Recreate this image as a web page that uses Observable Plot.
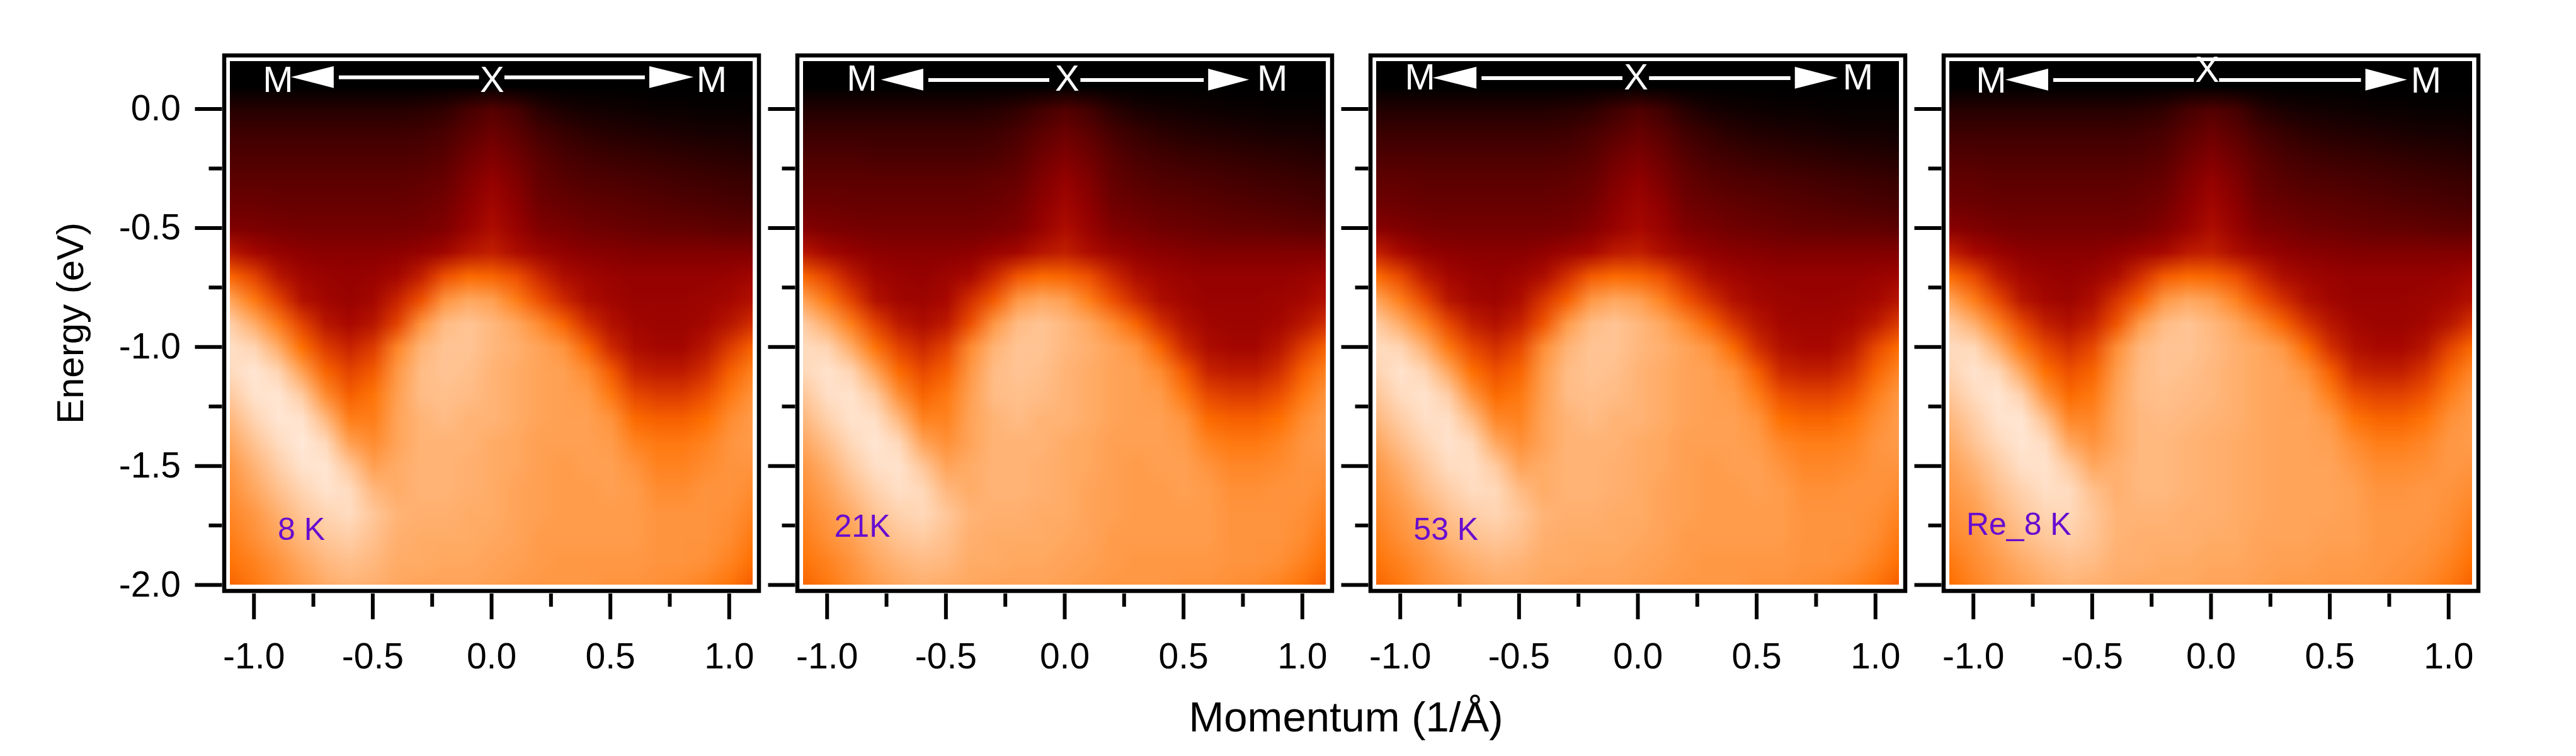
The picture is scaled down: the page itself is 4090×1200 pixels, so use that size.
<!DOCTYPE html>
<html><head><meta charset="utf-8">
<script src="https://cdn.jsdelivr.net/npm/d3@7"></script>
<script src="https://cdn.jsdelivr.net/npm/@observablehq/plot@0.6"></script>
<style>
html,body{margin:0;padding:0;background:#fff;}
#wrap{position:relative;width:4090px;height:1200px;overflow:hidden;background:#fff;font-family:"Liberation Sans",Arial,sans-serif;}
#xlabel{position:absolute;left:1137px;width:2000px;top:1104px;text-align:center;font-size:67px;line-height:67px;color:#000;}
</style></head><body><div id="wrap"><div id="xlabel">Momentum (1/Å)</div></div>
<script>
// momentum grid (columns) and energy grid (rows) of the intensity maps
const momentum = [-1.1,-1.0,-0.9,-0.8,-0.7,-0.6,-0.5,-0.4,-0.3,-0.2,-0.1,0.0,0.1,0.2,0.3,0.4,0.5,0.6,0.7,0.8,0.9,1.0,1.1];
const energy = [0.2,0.1,0.0,-0.1,-0.2,-0.3,-0.4,-0.5,-0.6,-0.7,-0.8,-0.9,-1.0,-1.1,-1.2,-1.3,-1.4,-1.5,-1.6,-1.7,-1.8,-1.9,-2.0];

const panelNames = ["8 K", "21K", "53 K", "Re_8 K"];

const intensity8K = [
[0,0,0,0,0,0,0,0,0,0,0,0,0,0,0,0,0,0,0,0,0,0,0],
[0,0,0,0,0,0,0,0,0,0,0,0,0,0,0,0,0,0,0,0,0,0,0],
[11,11,11,11,11,11,11,11,12,14,20,24,20,12,8,6,5,4,3,3,2,2,2],
[18,18,18,18,18,18,18,18,19,21,26,30,26,20,16,13,11,10,9,8,7,7,6],
[22,22,22,22,22,22,22,22,23,25,31,35,31,25,21,19,17,16,15,14,13,12,11],
[26,26,26,26,26,26,26,26,27,29,35,40,35,28,25,23,22,21,20,19,18,17,16],
[30,30,29,29,29,29,29,29,30,32,38,43,38,31,29,27,26,25,24,23,22,21,20],
[35,34,33,32,32,32,32,32,33,35,41,46,41,35,33,31,30,29,28,28,27,26,26],
[48,44,40,38,37,37,37,38,40,43,48,50,46,42,39,37,36,35,35,35,35,35,35],
[62,56,48,43,41,40,41,44,50,58,63,62,58,52,46,43,41,40,40,40,40,41,43],
[76,66,56,47,43,41,44,51,58,72,77,75,67,58,52,46,43,41,41,41,42,44,47],
[87,78,67,56,48,45,48,56,72,82,84,81,77,70,62,53,47,43,42,42,44,48,53],
[92,89,78,64,55,51,55,69,80,84,84,81,79,76,72,62,52,46,44,44,48,55,62],
[91,94,89,75,62,56,60,73,82,84,83,80,78,76,75,70,60,51,49,49,53,61,68],
[86,93,94,86,70,61,65,75,82,83,82,80,78,76,75,74,66,57,55,55,58,66,72],
[81,89,94,93,81,67,67,76,80,82,80,80,78,76,75,75,72,63,61,61,64,70,74],
[77,84,91,95,90,75,70,76,80,80,80,78,77,75,75,75,74,68,66,66,68,72,74],
[73,80,87,93,94,85,75,78,80,80,79,78,77,75,74,75,75,72,68,68,70,72,72],
[71,77,83,89,93,91,81,78,80,80,79,78,76,75,74,74,75,74,70,70,72,72,70],
[69,73,79,85,89,91,85,80,79,79,78,78,76,75,74,74,74,74,72,72,72,71,68],
[67,71,76,81,85,87,83,79,78,78,78,77,76,74,74,74,74,74,72,72,72,70,66],
[65,68,72,77,81,83,81,78,78,77,77,76,75,74,73,73,73,73,72,72,71,68,64],
[62,66,70,74,78,80,79,77,76,76,76,75,74,73,73,73,72,72,71,70,68,65,60]
];

const intensity21K = [
[0,0,0,0,0,0,0,0,0,0,0,0,0,0,0,0,0,0,0,0,0,0,0],
[0,0,0,0,0,0,0,0,0,0,0,0,0,0,0,0,0,0,0,0,0,0,0],
[10,10,10,10,10,10,10,10,11,14,19,23,19,12,8,6,5,4,3,3,2,2,2],
[17,17,17,17,17,17,17,17,18,21,26,30,26,20,16,13,11,10,9,8,7,7,6],
[22,22,22,21,21,21,21,21,22,25,31,35,31,25,21,19,17,16,15,14,13,12,11],
[26,26,26,26,26,26,26,26,27,29,35,40,35,28,25,23,22,21,20,19,18,17,16],
[30,30,29,29,29,29,29,29,30,32,38,43,38,31,29,27,26,25,24,23,22,21,20],
[36,34,33,32,32,32,32,32,33,35,41,46,41,35,33,31,30,29,28,28,27,26,26],
[48,44,40,38,37,37,37,38,41,44,48,50,46,42,39,37,36,35,35,35,35,35,35],
[62,56,49,43,41,40,42,45,52,59,63,62,58,52,46,43,41,40,40,40,40,41,43],
[75,66,56,47,43,42,45,53,60,73,77,75,67,58,52,46,43,41,41,41,42,44,47],
[86,78,67,56,49,46,49,58,73,82,84,81,77,70,62,53,47,43,42,42,44,48,53],
[91,89,78,65,56,52,56,70,80,84,84,81,79,76,72,62,52,46,44,44,48,55,62],
[90,93,89,76,63,57,61,73,82,84,83,80,78,76,75,70,60,51,49,49,53,61,68],
[85,92,93,86,71,62,66,75,82,83,82,80,78,76,75,74,66,57,55,55,58,66,72],
[81,88,93,92,81,68,68,76,80,82,80,80,78,76,75,75,72,63,61,61,64,70,74],
[77,83,90,94,90,76,71,76,80,80,80,78,77,75,75,75,74,68,66,66,68,72,74],
[73,79,86,92,93,85,76,78,80,80,79,78,77,75,74,75,75,72,69,69,70,72,72],
[71,76,82,88,92,90,81,78,80,80,79,78,76,75,74,74,75,74,71,71,72,72,70],
[69,73,78,84,88,90,85,80,79,79,78,78,76,75,74,74,74,74,72,72,72,71,68],
[67,71,75,80,84,86,83,79,78,78,78,77,76,74,74,74,74,74,72,72,72,70,66],
[65,68,72,77,80,82,81,78,78,77,77,76,75,74,73,73,73,73,72,72,71,68,64],
[62,66,70,74,77,79,78,77,76,76,76,75,74,73,73,73,72,72,71,70,68,65,60]
];

const intensity53K = [
[0,0,0,0,0,0,0,0,0,0,0,0,0,0,0,0,0,0,0,0,0,0,0],
[0,0,0,0,0,0,0,0,0,0,0,0,0,0,0,0,0,0,0,0,0,0,0],
[10,10,10,10,10,10,10,10,11,13,18,22,18,11,7,5,4,3,3,2,2,2,2],
[17,17,17,17,17,17,17,17,18,21,25,29,25,19,15,12,10,9,8,7,6,6,5],
[22,22,22,22,22,22,22,22,23,25,31,34,30,24,20,18,16,15,14,13,12,11,10],
[27,27,26,26,26,26,26,26,27,29,35,39,34,28,25,23,22,21,20,19,18,17,16],
[31,30,29,29,29,29,29,29,30,32,38,42,38,31,29,27,26,25,24,23,22,21,20],
[37,35,33,32,32,32,32,32,33,36,41,45,41,35,33,31,30,29,28,28,27,27,26],
[50,45,40,38,37,37,37,39,42,45,49,50,46,42,39,37,36,35,35,35,35,35,35],
[63,57,49,44,41,40,42,46,53,60,63,62,58,52,46,43,41,40,40,40,40,41,43],
[76,67,57,48,44,42,46,54,61,73,77,75,68,59,53,47,44,42,41,41,42,44,48],
[86,78,68,57,50,47,51,59,74,82,84,81,77,70,62,54,48,44,43,43,45,49,55],
[91,89,79,66,57,53,57,71,80,84,84,81,79,76,72,63,53,47,45,45,49,57,64],
[89,93,89,77,64,58,62,74,82,84,83,80,78,76,75,71,61,52,50,50,54,62,69],
[85,91,93,87,72,63,66,75,82,83,82,80,78,76,75,74,67,58,56,56,59,67,73],
[81,87,92,92,82,69,68,76,80,82,80,80,78,76,75,75,72,64,62,62,65,70,74],
[77,83,89,93,90,77,71,76,80,80,80,78,77,75,75,75,74,69,67,67,68,72,74],
[73,79,85,91,92,86,76,78,80,80,79,78,77,75,74,75,75,72,69,69,70,72,72],
[71,76,82,87,91,90,82,78,80,80,79,78,76,75,74,74,75,74,71,71,72,72,70],
[69,73,78,83,87,89,85,80,79,79,78,78,76,75,74,74,74,74,72,72,72,71,68],
[67,71,75,80,83,85,83,79,78,78,78,77,76,74,74,74,74,74,72,72,72,70,66],
[65,68,72,76,79,81,80,78,78,77,77,76,75,74,73,73,73,73,72,72,71,68,64],
[62,66,70,73,76,78,78,77,76,76,76,75,74,73,73,73,72,72,71,70,68,65,60]
];

const intensityRe8K = [
[0,0,0,0,0,0,0,0,0,0,0,0,0,0,0,0,0,0,0,0,0,0,0],
[0,0,0,0,0,0,0,0,0,0,0,0,0,0,0,0,0,0,0,0,0,0,0],
[11,11,11,11,11,11,11,11,12,14,20,23,20,12,8,6,5,4,3,3,2,2,2],
[18,18,18,18,18,18,18,18,19,21,26,30,26,20,16,13,11,10,9,8,7,7,6],
[23,23,22,22,22,22,22,22,23,25,31,35,31,25,21,19,17,16,15,14,13,12,11],
[27,27,26,26,26,26,26,26,27,29,35,40,35,28,25,23,22,21,20,19,18,17,16],
[31,30,29,29,29,29,29,29,30,32,38,43,38,31,29,27,26,25,24,23,22,21,20],
[37,35,33,32,32,32,32,32,33,36,41,46,41,35,33,31,30,29,28,28,27,26,26],
[50,45,41,38,37,37,37,39,42,45,49,50,46,42,39,37,36,35,35,35,35,35,35],
[63,57,49,44,41,40,42,46,53,60,63,62,58,52,46,43,41,40,40,40,40,41,43],
[76,67,57,48,44,42,46,54,61,73,77,75,68,59,53,47,43,41,41,41,42,44,47],
[86,79,68,57,50,47,51,59,74,82,84,81,77,70,62,54,48,44,42,42,44,48,54],
[91,90,79,66,57,53,57,71,81,84,84,82,79,77,73,63,53,47,45,45,48,56,63],
[89,93,90,77,64,58,62,74,82,84,83,81,79,77,76,71,61,52,50,50,54,62,69],
[85,91,94,88,72,63,66,76,82,83,82,81,79,77,76,75,67,58,56,56,59,67,73],
[81,87,93,94,83,69,69,77,81,82,81,80,79,77,76,76,73,65,62,62,65,71,74],
[78,84,90,94,91,77,72,77,81,81,80,79,78,77,76,76,75,70,67,67,69,73,74],
[75,80,86,92,93,86,77,79,81,81,80,79,78,77,76,76,76,73,70,70,71,73,72],
[73,77,83,88,92,91,83,79,81,81,80,79,78,77,76,76,76,75,72,72,73,72,70],
[71,74,80,85,89,90,85,80,80,80,79,79,78,77,76,76,76,75,73,73,73,71,68],
[69,72,77,82,85,87,84,80,79,79,79,78,78,76,76,76,75,75,73,73,72,70,66],
[66,70,74,78,81,83,82,79,79,78,78,77,77,76,75,75,74,74,73,72,71,68,64],
[64,68,72,75,78,80,79,78,77,77,77,76,76,75,74,74,73,73,72,71,69,66,61]
];

const panelData = [intensity8K, intensity21K, intensity53K, intensityRe8K];

// sample labels (position of start of text, baseline energy)
const nameK = [-0.90, -0.97, -0.944, -1.03];
const nameE = [-1.81, -1.797, -1.81, -1.79];

// high-symmetry path annotation  M <-- X --> M
const mLeftK  = [-0.899, -0.854, -0.917, -0.925];
const xPointK = [0.002, 0.010, -0.008, -0.016];
const mRightK = [0.926, 0.874, 0.926, 0.905];
const tipLeftK  = [-0.843, -0.772, -0.862, -0.864];
const baseLeftK = [-0.663, -0.594, -0.678, -0.684];
const gapLeftK  = [-0.053, -0.065, -0.065, -0.072];
const gapRightK = [0.054, 0.066, 0.047, 0.034];
const baseRightK = [0.665, 0.605, 0.662, 0.651];
const tipRightK  = [0.851, 0.777, 0.843, 0.826];
const arrowE = [0.133, 0.122, 0.130, 0.122];
const mTextE = [0.072, 0.076, 0.081, 0.069];
const xTextE = [0.072, 0.076, 0.081, 0.115];
const headHalf = 0.046;

// axis ticks
const yMajor = [0, -0.5, -1.0, -1.5, -2.0];
const yMinor = [-0.25, -0.75, -1.25, -1.75];
const xMajor = [-1.0, -0.5, 0, 0.5, 1.0];
const xMinor = [-0.75, -0.25, 0.25, 0.75];

// colour map (intensity -> colour)
const cmapStops = [0, 10, 20, 30, 38, 45, 52, 58, 64, 70, 77, 84, 91, 97, 100];
const cmapColors = ["#000000","#220000","#460000","#6c0000","#8e0000","#a80800","#cc2800","#ee5000","#ff7000","#ff8c30","#ffa860","#ffc494","#ffdcc0","#fff0e6","#fff8f4"];

const cmapScale = d3.scaleLinear().domain(cmapStops).range(cmapColors).interpolate(d3.interpolateRgb).clamp(true);
const cmap = t => cmapScale(t * 100);

const FONT = '"Liberation Sans", Arial, Helvetica, sans-serif';
const wrap = document.getElementById("wrap");
const dk = momentum[1] - momentum[0];
const dE = energy[0] - energy[1];

panelData.forEach((grid, p) => {
  const values = grid.flat();
  const y0 = arrowE[p];
  const heads = [
    {id: 0, k: baseLeftK[p], lo: y0 - headHalf, hi: y0 + headHalf},
    {id: 0, k: tipLeftK[p], lo: y0, hi: y0},
    {id: 1, k: baseRightK[p], lo: y0 - headHalf, hi: y0 + headHalf},
    {id: 1, k: tipRightK[p], lo: y0, hi: y0}
  ];
  const shafts = [
    {a: baseLeftK[p] + 0.02, b: gapLeftK[p], e: y0},
    {a: gapRightK[p], b: baseRightK[p] - 0.02, e: y0}
  ];
  const pathLabels = [
    {k: mLeftK[p], e: mTextE[p], t: "M"},
    {k: xPointK[p], e: xTextE[p], t: "X"},
    {k: mRightK[p], e: mTextE[p], t: "M"}
  ];
  const nameLabel = [{k: nameK[p], e: nameE[p], t: panelNames[p]}];

  const marks = [
    Plot.raster(values, {
      width: momentum.length, height: energy.length,
      x1: momentum[0] - dk / 2, x2: momentum[momentum.length - 1] + dk / 2,
      y1: energy[0] + dE / 2, y2: energy[energy.length - 1] - dE / 2,
      fill: d => d, clip: true, imageRendering: "auto"
    }),
    Plot.frame({stroke: "black", strokeWidth: 6.5, inset: -9.5}),
    Plot.link(shafts, {x1: "a", x2: "b", y1: "e", y2: "e", stroke: "white", strokeWidth: 6}),
    Plot.areaY(heads, {x: "k", y1: "lo", y2: "hi", z: "id", fill: "white"}),
    Plot.text(pathLabels, {x: "k", y: "e", text: "t", fill: "white", fontSize: 58, textAnchor: "middle", lineAnchor: "bottom"}),
    Plot.text(nameLabel, {x: "k", y: "e", text: "t", fill: "#680cd0", fontSize: 50, textAnchor: "start", lineAnchor: "bottom"}),
    Plot.axisY(yMajor, Object.assign({anchor: "left", tickSize: 43, tickPadding: 23, dx: -12.5, strokeWidth: 6, fontSize: 57, tickFormat: d => d.toFixed(1), label: null}, p > 0 ? {fill: "none"} : {})),
    Plot.axisY(yMinor, {anchor: "left", tickSize: 21, dx: -12.5, strokeWidth: 6, fill: "none", label: null}),
    Plot.axisX(xMajor, {anchor: "bottom", tickSize: 41, tickPadding: 37, dy: 14, strokeWidth: 6, fontSize: 57, tickFormat: d => d.toFixed(1), label: null}),
    Plot.axisX(xMinor, {anchor: "bottom", tickSize: 21, dy: 14, strokeWidth: 6, fill: "none", label: null})
  ];
  if (p === 0) {
    marks.push(Plot.text(["Energy (eV)"], {frameAnchor: "left", text: d => d, rotate: -90, dx: -253, fontSize: 60, textAnchor: "middle", lineAnchor: "middle", fill: "black"}));
  }

  const chart = Plot.plot({
    width: 1240, height: 1200,
    marginLeft: 365, marginRight: 45, marginTop: 97, marginBottom: 272,
    x: {domain: [momentum[0], momentum[momentum.length - 1]]},
    y: {domain: [energy[energy.length - 1], energy[0]]},
    color: {type: "linear", domain: [0, 100], interpolate: cmap},
    style: {background: "transparent", fontFamily: FONT, color: "black", overflow: "visible"},
    marks
  });
  chart.style.position = "absolute";
  chart.style.left = (910 * p) + "px";
  chart.style.top = "0px";
  chart.style.maxWidth = "none";
  wrap.appendChild(chart);
});
</script></body></html>
